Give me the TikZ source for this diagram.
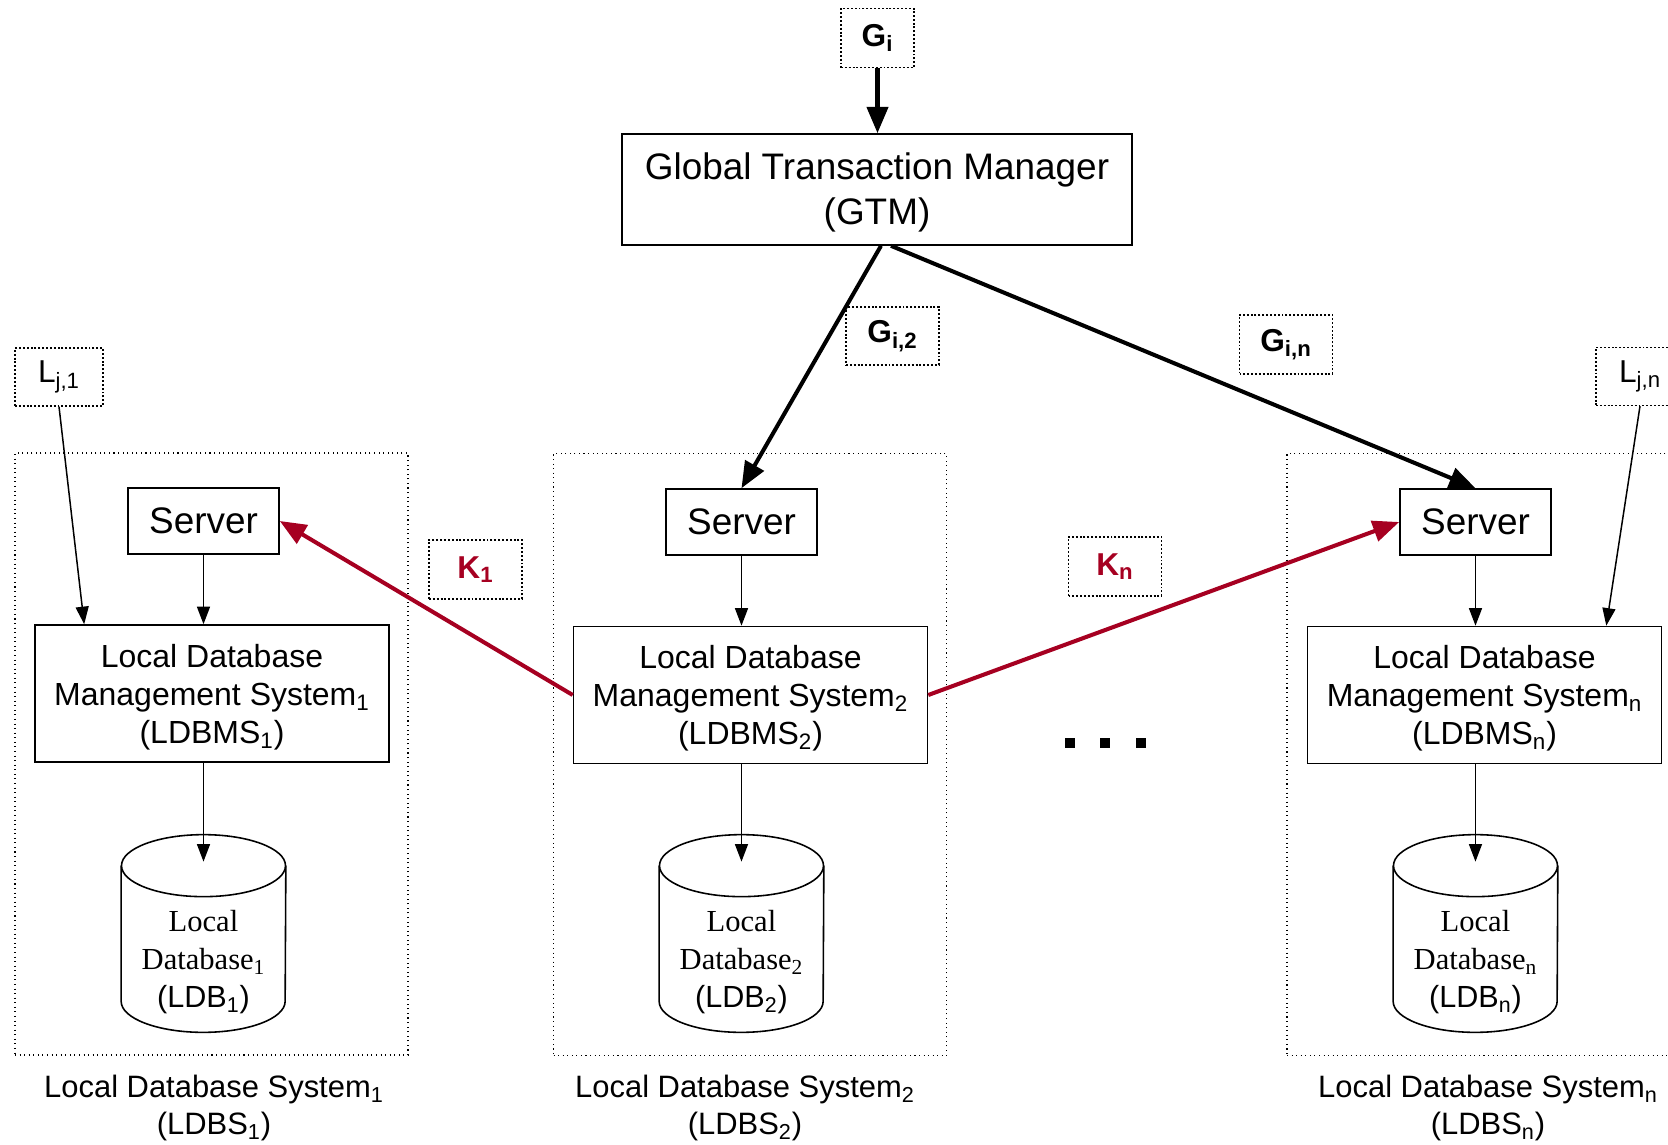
\documentclass[tikz,border=0pt]{standalone}
\usepackage{fontspec}
\setmainfont{Liberation Sans}
\newfontfamily\dbserif{Liberation Serif}
\usetikzlibrary{arrows.meta,calc}
\definecolor{kred}{RGB}{166,0,33}
\newcommand{\idx}[1]{\textsubscript{#1}}

\begin{document}
\begin{tikzpicture}[scale=0.2,
    box/.style={draw, line width=0.9pt, inner sep=0pt, align=center},
    tag/.style={draw, line width=0.7pt, dash pattern=on 1.1pt off 1.1pt, inner sep=0pt,
      minimum width=1.86cm, minimum height=1.16cm, font=\fontsize{18}{20}\selectfont},
    sysbox/.style={draw, line width=0.6pt, dotted, minimum width=7.86cm, minimum height=12.04cm},
    server/.style={box, minimum width=3.02cm, minimum height=1.32cm, font=\fontsize{21}{24}\selectfont},
    ldbms/.style={box, minimum width=7.08cm, minimum height=2.74cm, font=\fontsize{18.2}{21.6}\selectfont},
    ldb/.style={inner sep=0pt, minimum width=3.28cm, minimum height=3.94cm},
    ldbtext/.style={inner sep=0pt, align=center, font=\fontsize{17.4}{21.6}\selectfont},
    syslabel/.style={anchor=north, inner sep=0pt, align=center, font=\fontsize{17.6}{21}\selectfont},
    link/.style={line width=0.85pt, -{Triangle[length=10pt,width=7.4pt]}},
    bigarrow/.style={line width=2.3pt, -{Triangle[length=15pt,width=12pt]}},
    redarrow/.style={bigarrow, draw=kred, color=kred},
  ]
    \useasboundingbox (0,0) rectangle (166.8,-114.4);
    % global side
    \node [tag, minimum width=1.46cm, minimum height=1.18cm] (gi) at (87.75,-3.8) {\textbf{G\idx{i}}};
    \node [box, minimum width=10.2cm, minimum height=2.22cm, font=\fontsize{21}{25.6}\selectfont] (gtm) at (87.7,-18.95) {\rule{0pt}{19pt}Global Transaction Manager\\(GTM)};
    \node [tag] (gi2) at (89.25,-33.6) {\textbf{G\idx{i,2}}};
    \node [tag, minimum height=1.18cm] (gin) at (128.6,-34.45) {\textbf{G\idx{i,n}}};
    \node [tag, minimum width=1.76cm] (lj1) at (5.9,-37.7) {L\idx{j,1}};
    \node [tag, minimum width=1.76cm] (ljn) at (164,-37.65) {L\idx{j,n}};
    \node [tag, minimum height=1.18cm, text=kred] (k1) at (47.55,-56.95) {\textbf{K\idx{1}}};
    \node [tag, minimum height=1.18cm, text=kred] (kn) at (111.5,-56.65) {\textbf{K\idx{n}}};
    % local systems
    \node [sysbox] (sys1) at (21.15,-75.4) {};
    \node [sysbox] (sys2) at (75,-75.45) {};
    \node [sysbox] (sysn) at (148.35,-75.45) {};
    \node [server] (srv1) at (20.35,-52.1) {Server};
    \node [server] (srv2) at (74.15,-52.2) {Server};
    \node [server] (srvn) at (147.55,-52.2) {Server};
    \node [ldbms] (ldbms1) at (21.2,-69.35) {\rule{0pt}{17pt}Local Database\\Management System\idx{1}\\(LDBMS\idx{1})};
    \node [ldbms] (ldbms2) at (75.05,-69.5) {\rule{0pt}{17pt}Local Database\\Management System\idx{2}\\(LDBMS\idx{2})};
    \node [ldbms] (ldbmsn) at (148.45,-69.5) {\rule{0pt}{17pt}Local Database\\Management System\idx{n}\\(LDBMS\idx{n})};
    \node [ldb] (db1) at (20.35,-93.35) {};
    \node [ldb] (db2) at (74.15,-93.35) {};
    \node [ldb] (dbn) at (147.55,-93.35) {};
    \foreach \d in {db1,db2,dbn} {
      \draw [line width=0.9pt] ($(\d.north west)+(0,-3.1)$) -- ($(\d.south west)+(0,3.1)$)
        arc (180:360:8.2 and 3.1) -- ($(\d.north east)+(0,-3.1)$);
      \draw [line width=0.9pt] ($(\d.north)+(0,-3.1)$) ellipse (8.2 and 3.1);
      \coordinate (\d cap) at ($(\d.north)+(0,-2.7)$);
    }
    \node [ldbtext] (db1txt) at ($(db1)+(0,-2.9)$) {{\dbserif Local}\\{\dbserif Database\idx{1}}\\(LDB\idx{1})};
    \node [ldbtext] (db2txt) at ($(db2)+(0,-2.9)$) {{\dbserif Local}\\{\dbserif Database\idx{2}}\\(LDB\idx{2})};
    \node [ldbtext] (dbntxt) at ($(dbn)+(0,-2.9)$) {{\dbserif Local}\\{\dbserif Database\idx{n}}\\(LDB\idx{n})};
    \node [syslabel] (lbl1) at (21.4,-107.5) {Local Database System\idx{1}\\(LDBS\idx{1})};
    \node [syslabel] (lbl2) at (74.5,-107.5) {Local Database System\idx{2}\\(LDBS\idx{2})};
    \node [syslabel] (lbln) at (148.8,-107.5) {Local Database System\idx{n}\\(LDBS\idx{n})};
    \foreach \x in {106.5,110.0,113.6}
      \fill (\x,-73.8) rectangle ++(1,-1);
    % connectors
    \draw [bigarrow] (gi.south) -- (gi.south |- gtm.north);
    \draw [bigarrow] ($(gtm.south)+(0.4,0)$) -- (srv2.north);
    \draw [bigarrow] ($(gtm.south)+(1.4,0)$) -- (srvn.north);
    \draw [link] (lj1.south) -- ($(ldbms1.north west)+(5,0)$);
    \draw [link] (ljn.south) -- ($(ldbmsn.north east)+(-5.6,0)$);
    \draw [link] (srv1.south) -- (srv1.south |- ldbms1.north);
    \draw [link] (srv2.south) -- (srv2.south |- ldbms2.north);
    \draw [link] (srvn.south) -- (srvn.south |- ldbmsn.north);
    \draw [link] (db1cap |- ldbms1.south) -- (db1cap);
    \draw [link] (db2cap |- ldbms2.south) -- (db2cap);
    \draw [link] (dbncap |- ldbmsn.south) -- (dbncap);
    \draw [redarrow] (ldbms2.west) -- (srv1.east);
    \draw [redarrow] (ldbms2.east) -- (srvn.west);
\end{tikzpicture}
\end{document}
